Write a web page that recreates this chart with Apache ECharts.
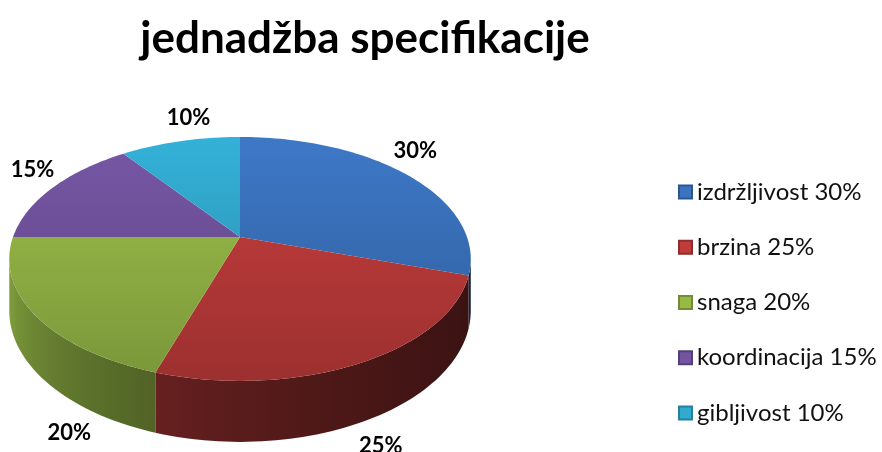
<!DOCTYPE html>
<html>
<head>
<meta charset="utf-8">
<script src="https://cdn.jsdelivr.net/npm/echarts@6/dist/echarts.min.js"></script>
<style>
  html, body { margin: 0; padding: 0; background: #fff; }
  #main { width: 882px; height: 452px; }
</style>
</head>
<body>
<div id="main"></div>
<script>
// data
var names = ["izdržljivost", "brzina", "snaga", "koordinacija", "gibljivost"];
var values = [30, 25, 20, 15, 10];
var colors = ["#3b73bf", "#c03c3b", "#97ba47", "#7254a0", "#32aad0"];

// layout of the tilted disk (perspective)
var cx = 240, cy = 237, RX = 227, RY = 118, K = 0.18, DEPTH = 50;
var labelShift = [-3, 0, -20, 0, 4]; // degrees, like excel's label fit
var FONT = "Lato";

var total = values.reduce(function (a, b) { return a + b; }, 0);
var starts = [];
var acc = 0;
values.forEach(function (v) { starts.push(acc / total * 360); acc += v; });

function proj(phi, r, down) {
  var a = phi * Math.PI / 180;
  var u = Math.sin(a) * r, v = -Math.cos(a) * r;
  var w = 1 - K * v;
  return [cx + RX * u / w, cy + (RY * v + (down ? DEPTH : 0)) / w];
}

function shade(hex, f) {
  var n = parseInt(hex.slice(1), 16);
  var r = (n >> 16) & 255, g = (n >> 8) & 255, b = n & 255;
  function c(x) { return Math.max(0, Math.min(255, Math.round(x * f))); }
  return "rgb(" + c(r) + "," + c(g) + "," + c(b) + ")";
}

// side wall light: dark on the right, brighter to the left
function wallLight(phi) {
  var t = (phi - 90) / 180;
  return 0.3 + 0.65 * t * t;
}

// silhouette of the cylinder seen in perspective
var sil = Math.acos(-K) * 180 / Math.PI;

function renderSlice(i) {
  return function (params, api) {
    var s = starts[i], e = s + api.value(0) / total * 360;
    var children = [];

    // outer wall (front part only)
    var a0 = Math.max(s, sil), a1 = Math.min(e, 360 - sil);
    if (a1 > a0) {
      var pts = [], n = Math.ceil((a1 - a0) / 1.5), k;
      for (k = 0; k <= n; k++) pts.push(proj(a0 + (a1 - a0) * k / n, 1, false));
      for (k = n; k >= 0; k--) pts.push(proj(a0 + (a1 - a0) * k / n, 1, true));
      var xR = proj(a0, 1)[0], xL = proj(a1, 1)[0];
      var stops = [];
      for (k = 0; k <= 8; k++) {
        var ph = a1 - (a1 - a0) * k / 8;
        stops.push({ offset: (proj(ph, 1)[0] - xL) / (xR - xL), color: shade(colors[i], wallLight(ph)) });
      }
      stops.sort(function (p, q) { return p.offset - q.offset; });
      children.push({
        type: "polygon",
        shape: { points: pts },
        style: { fill: new echarts.graphic.LinearGradient(xL, 0, xR, 0, stops, true), stroke: null }
      });
    }

    // top face
    var top = [[cx, cy]];
    var m = Math.ceil((e - s) / 1.5);
    for (var j = 0; j <= m; j++) top.push(proj(s + (e - s) * j / m, 1, false));
    children.push({
      type: "polygon",
      shape: { points: top },
      style: {
        fill: new echarts.graphic.LinearGradient(0, 138, 0, 390, [
          { offset: 0, color: shade(colors[i], 1.04) },
          { offset: 1, color: shade(colors[i], 0.8) }
        ], true),
        stroke: null
      }
    });

    // outside label
    var mid = (s + e) / 2 + labelShift[i];
    var front = -Math.cos(mid * Math.PI / 180) > 0.3;
    var lp = proj(mid, 1.12, front);
    children.push({
      type: "text",
      style: {
        text: api.value(0) + "%",
        x: lp[0], y: front ? lp[1] + 4 : lp[1] - 12,
        align: "center", verticalAlign: "middle",
        fontFamily: FONT, fontWeight: "bold", fontSize: 22, fill: "#000"
      }
    });
    return { type: "group", children: children };
  };
}

var series = names.map(function (name, i) {
  return {
    type: "custom",
    name: name,
    coordinateSystem: "none",
    silent: true,
    itemStyle: { color: colors[i], borderColor: shade(colors[i], 0.75), borderWidth: 1 },
    renderItem: renderSlice(i),
    data: [[values[i]]]
  };
});

var myChart = echarts.init(document.getElementById("main"));
myChart.setOption({
  animation: false,
  title: {
    text: "jednadžba specifikacije",
    left: 360,
    top: 12,
    textAlign: "center",
    textStyle: { fontFamily: FONT, fontWeight: "bold", fontSize: 44, color: "#000" }
  },
  legend: {
    orient: "vertical",
    left: 673,
    top: 174,
    icon: "rect",
    itemWidth: 13,
    itemHeight: 13,
    itemGap: 29.25,
    data: names,
    formatter: function (name) {
      return name + " " + values[names.indexOf(name)] + "%";
    },
    textStyle: { fontFamily: FONT, fontSize: 24, lineHeight: 26, color: "#111" }
  },
  series: series
});
</script>
</body>
</html>
